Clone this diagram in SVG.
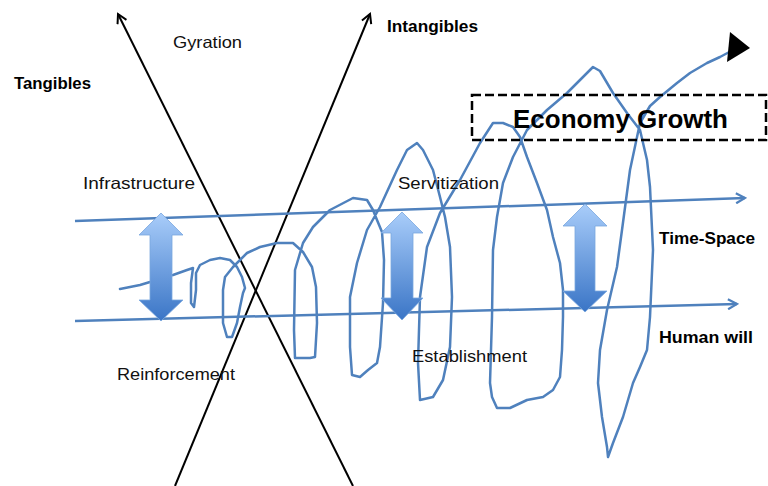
<svg xmlns="http://www.w3.org/2000/svg" width="768" height="486" viewBox="0 0 768 486">
<style>
.lbl{font-family:"Liberation Sans",Arial,sans-serif;font-size:16.5px;fill:#111}
.bold{font-family:"Liberation Sans",Arial,sans-serif;font-size:16px;font-weight:bold;fill:#000}
.axis{stroke:#000;stroke-width:2;fill:none}
.hline{stroke:#4F81BD;stroke-width:2.5;fill:none}
.spiral{stroke:#4F81BD;stroke-width:2.5;fill:none;stroke-linejoin:round;stroke-linecap:round}
.block{fill:url(#blockGrad);stroke:#7AA7DE;stroke-width:0.8}
</style>
<defs>
<linearGradient id="blockGrad" x1="0" y1="0" x2="0" y2="1">
<stop offset="0" stop-color="#A9CDFA"/>
<stop offset="1" stop-color="#3A75C6"/>
</linearGradient>
<marker id="blackHead" viewBox="0 0 12 12" refX="10" refY="6" markerWidth="12" markerHeight="12" markerUnits="userSpaceOnUse" orient="auto">
<path d="M1,1 L10,6 L1,11" fill="none" stroke="#000" stroke-width="2"/>
</marker>
<marker id="blueHead" viewBox="0 0 12 12" refX="10" refY="6" markerWidth="12" markerHeight="12" markerUnits="userSpaceOnUse" orient="auto">
<path d="M1,1 L10,6 L1,11" fill="none" stroke="#4F81BD" stroke-width="2.2"/>
</marker>
</defs>
<rect width="768" height="486" fill="#fff"/>

<g id="connectors">
<line id="axis-tangibles" class="axis" x1="353" y1="486" x2="118" y2="14" marker-end="url(#blackHead)"/>
<line id="axis-intangibles" class="axis" x1="175" y1="486" x2="370" y2="14" marker-end="url(#blackHead)"/>
<polyline id="growth-spiral" class="spiral" points="120,289 140,285 150,282 160,277 173,275 187,270 193,268 191,283 191,303 194,307 196,290 196,273 200,265 210,260 220,258 230,260 237,267 242,277 245,288 243,293 240,307 237,323 232,337 227,337 223,323 223,290 225,277 233,267 247,253 260,247 277,243 293,243 303,252 312,267 316,287 317,323 315,357 310,358 295,358 294,330 295,270 303,243 313,227 330,210 353,198 367,200 373,210 377,220 382,232 384,260 383,303 380,347 377,363 368,370 360,377 352,375 350,347 350,297 357,263 367,230 380,207 397,170 407,150 417,143 423,150 433,170 440,197 445,217 450,247 452,297 450,347 443,380 433,397 420,400 418,363 420,297 427,247 440,213 460,180 480,143 493,123 503,123 513,127 520,137 527,157 537,183 547,210 553,237 560,263 563,290 563,317 562,350 560,377 553,390 543,397 527,400 510,408 497,408 492,397 490,383 492,317 493,250 497,217 503,183 513,157 527,130 547,110 567,93 583,77 593,67 600,71 613,93 627,113 640,130 647,160 650,187 653,250 650,317 647,350 640,367 633,383 623,417 613,443 608,457 607,447 602,417 598,383 600,350 607,310 617,267 622,230 630,170 640,123 650,106 660,97 677,83 690,73 707,63 720,57 733,50 740,43"/>
<polygon id="growth-head" points="730,32 750,48 727,62" fill="#000"/>
<line id="time-space-line" class="hline" x1="75" y1="221" x2="745" y2="198" marker-end="url(#blueHead)"/>
<line id="human-will-line" class="hline" x1="75" y1="321" x2="737" y2="304" marker-end="url(#blueHead)"/>
</g>

<g id="arrow-infrastructure">
<path class="block" d="M161,213 L183,235 L172,235 L172,300 L183,300 L161,321 L139,300 L150,300 L150,235 L139,235 Z"/>
</g>
<g id="arrow-servitization">
<path class="block" d="M402,212 L423,233 L413,233 L413,298 L423,298 L402,320 L381,298 L391,298 L391,233 L381,233 Z"/>
</g>
<g id="arrow-establishment">
<path class="block" d="M585,204 L607,226 L595,226 L595,291 L607,291 L585,312 L563,291 L575,291 L575,226 L563,226 Z"/>
</g>

<g id="economy-growth">
<rect x="472" y="95" width="294" height="45" fill="none" stroke="#000" stroke-width="2.5" stroke-dasharray="9,4"/>
<text x="513" y="128" font-family="'Liberation Sans',Arial,sans-serif" font-size="26" font-weight="bold" fill="#000" textLength="215" lengthAdjust="spacingAndGlyphs">Economy Growth</text>
</g>

<g id="tangibles"><text class="bold" x="14" y="89" textLength="77" lengthAdjust="spacingAndGlyphs">Tangibles</text></g>
<g id="intangibles"><text class="bold" x="387" y="32" textLength="91" lengthAdjust="spacingAndGlyphs">Intangibles</text></g>
<g id="gyration"><text class="lbl" x="173" y="48" textLength="69" lengthAdjust="spacingAndGlyphs">Gyration</text></g>
<g id="infrastructure"><text class="lbl" x="83" y="189" textLength="112" lengthAdjust="spacingAndGlyphs">Infrastructure</text></g>
<g id="servitization"><text class="lbl" x="398" y="189" textLength="101" lengthAdjust="spacingAndGlyphs">Servitization</text></g>
<g id="establishment"><text class="lbl" x="412" y="362" textLength="115" lengthAdjust="spacingAndGlyphs">Establishment</text></g>
<g id="reinforcement"><text class="lbl" x="117" y="380" textLength="118" lengthAdjust="spacingAndGlyphs">Reinforcement</text></g>
<g id="time-space"><text class="bold" x="659" y="244" textLength="96" lengthAdjust="spacingAndGlyphs">Time-Space</text></g>
<g id="human-will"><text class="bold" x="659" y="343" textLength="94" lengthAdjust="spacingAndGlyphs">Human will</text></g>
</svg>
